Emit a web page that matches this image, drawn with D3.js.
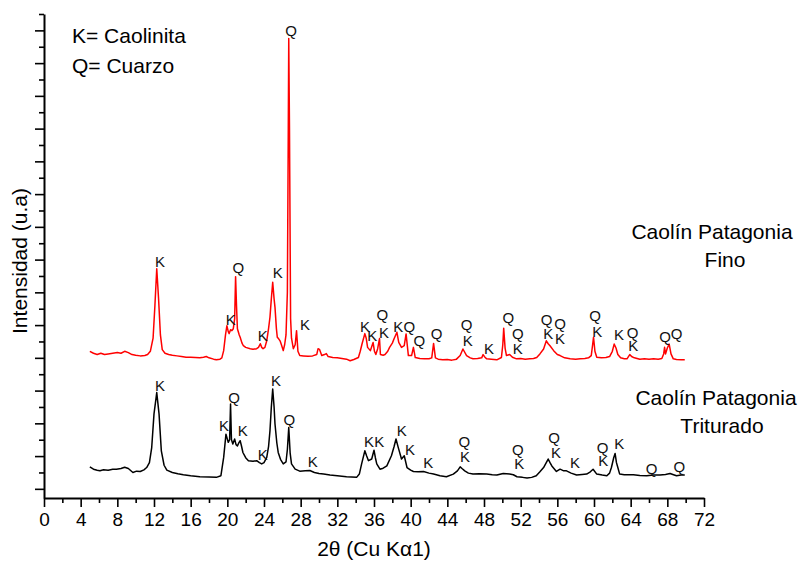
<!DOCTYPE html>
<html>
<head>
<meta charset="utf-8">
<script src="https://cdn.jsdelivr.net/npm/d3@7"></script>
<style>
  html, body { margin: 0; padding: 0; background: #fff; }
  svg { display: block; font-family: "Liberation Sans", Arial, sans-serif; }
</style>
</head>
<body>
<div id="chart"></div>
<script>
// XRD patterns, 2θ in degrees vs intensity (a.u.)

// Caolín Patagonia Fino (red, upper trace)
const finoData = [
  [5.0,420],[5.4,414],[5.8,410],[6.2,414],[6.6,410],[7.0,412],[7.5,414],[8.0,416],[8.4,414],[8.8,420],
  [9.2,416],[9.6,410],[10.0,408],[10.5,406],[11.0,407],[11.3,410],[11.6,420],[11.9,460],[12.1,560],[12.3,672],
  [12.5,580],[12.7,470],[12.9,425],[13.2,414],[13.6,410],[14.0,408],[14.5,406],[15.0,404],[15.5,402],[16.0,402],
  [16.5,401],[17.0,400],[17.4,402],[17.7,404],[18.0,400],[18.5,396],[18.8,394],[19.2,396],[19.4,400],[19.6,422],
  [19.8,470],[19.95,498],[20.1,480],[20.2,474],[20.35,486],[20.5,483],[20.65,489],[20.8,520],[20.9,648],[21.0,560],
  [21.1,489],[21.3,470],[21.4,463],[21.6,445],[21.75,437],[22.0,432],[22.5,428],[22.8,426],[23.2,428],[23.4,432],
  [23.6,443],[23.75,432],[23.9,428],[24.1,432],[24.3,452],[24.5,490],[24.65,524],[24.8,580],[24.95,631],[25.1,580],
  [25.2,554],[25.35,490],[25.45,463],[25.6,458],[25.75,452],[25.9,440],[26.1,422],[26.25,440],[26.4,470],[26.55,600],
  [26.65,1100],[26.7,1375],[26.78,1100],[26.9,520],[27.0,460],[27.2,428],[27.4,440],[27.55,483],[27.7,420],[27.9,407],
  [28.3,406],[28.8,405],[29.3,406],[29.75,410],[29.9,428],[30.05,426],[30.3,407],[30.6,410],[30.8,413],[31.0,404],
  [31.5,401],[32.0,400],[32.5,398],[33.0,396],[33.4,391],[33.8,395],[34.3,401],[34.5,420],[34.7,443],[35.0,474],
  [35.15,460],[35.3,432],[35.6,422],[35.9,447],[36.05,420],[36.2,410],[36.4,428],[36.6,459],[36.7,410],[37.0,408],
  [37.2,410],[37.5,420],[37.7,432],[38.0,445],[38.2,459],[38.5,478],[38.7,447],[39.0,432],[39.3,437],[39.5,473],
  [39.75,407],[40.1,407],[40.3,432],[40.5,401],[41.0,398],[41.5,397],[42.0,397],[42.3,400],[42.5,444],[42.7,400],
  [43.0,396],[43.5,394],[44.0,395],[44.5,393],[45.0,396],[45.4,407],[45.7,427],[46.1,407],[46.5,400],[46.8,397],
  [47.3,398],[47.75,400],[47.9,410],[48.1,402],[48.3,397],[48.8,396],[49.4,394],[49.9,401],[50.05,440],[50.15,490],
  [50.3,430],[50.45,407],[50.8,410],[51.1,402],[51.55,397],[52.0,398],[52.5,396],[53.0,397],[53.4,398],[53.75,401],
  [54.1,412],[54.5,427],[54.8,452],[55.0,443],[55.2,437],[55.6,422],[56.0,410],[56.3,407],[56.8,400],[57.4,397],
  [58.0,396],[58.5,397],[59.0,398],[59.4,400],[59.7,407],[59.85,440],[59.95,463],[60.1,420],[60.3,402],[60.8,400],
  [61.3,401],[61.7,404],[62.0,420],[62.2,442],[62.4,430],[62.6,410],[62.9,400],[63.3,397],[63.6,397],[63.9,410],
  [64.1,404],[64.4,400],[65.0,396],[65.5,397],[66.0,396],[66.5,397],[67.0,396],[67.4,398],[67.6,412],[67.7,432],
  [67.8,412],[68.0,430],[68.2,442],[68.4,412],[68.65,397],[69.0,395],[69.5,394],[69.9,394]
];

// Caolín Patagonia Triturado (black, lower trace)
const trituradoData = [
  [5.0,67],[5.4,60],[5.8,57],[6.1,55],[6.5,58],[7.0,57],[7.5,60],[7.9,60],[8.4,62],[8.8,66],
  [9.2,62],[9.7,50],[10.1,54],[10.5,53],[10.9,58],[11.2,65],[11.5,80],[11.75,126],[12.0,229],[12.3,294],
  [12.55,229],[12.8,116],[13.1,72],[13.4,57],[14.0,50],[14.6,46],[15.2,43],[16.0,40],[17.0,37],[18.0,36],
  [18.8,35],[19.3,40],[19.6,96],[19.85,167],[20.1,142],[20.25,150],[20.35,259],[20.45,150],[20.6,137],[20.8,152],
  [20.95,135],[21.1,131],[21.25,140],[21.4,147],[21.55,130],[21.7,111],[22.0,95],[22.3,86],[22.8,84],[23.2,86],
  [23.5,80],[23.75,76],[24.0,80],[24.3,96],[24.5,130],[24.65,177],[24.8,250],[24.95,305],[25.1,250],[25.2,198],
  [25.4,140],[25.55,111],[25.8,90],[26.1,76],[26.4,82],[26.55,120],[26.7,187],[26.85,110],[27.0,76],[27.4,60],
  [27.9,54],[28.5,55],[29.0,56],[29.5,50],[30.0,47],[30.5,45],[31.2,42],[32.0,40],[33.0,37],[34.1,35],
  [34.4,45],[34.65,76],[35.0,116],[35.2,100],[35.4,86],[35.75,91],[36.0,118],[36.15,95],[36.3,76],[36.65,60],
  [37.0,63],[37.4,70],[37.9,101],[38.2,130],[38.4,152],[38.65,126],[39.0,91],[39.3,101],[39.6,65],[40.0,57],
  [40.3,53],[40.8,52],[41.4,53],[42.0,48],[42.5,45],[43.2,40],[43.9,37],[44.65,45],[45.1,55],[45.4,67],
  [45.6,62],[45.9,55],[46.3,48],[46.8,45],[47.5,46],[48.3,45],[48.9,43],[49.4,42],[50.1,47],[50.8,45],
  [51.2,43],[51.6,37],[52.2,35],[52.7,33],[53.2,35],[53.7,40],[54.1,52],[54.5,65],[55.0,91],[55.2,80],
  [55.4,70],[55.9,53],[56.3,60],[56.7,55],[57.0,55],[57.5,48],[58.1,42],[58.7,44],[59.2,45],[59.6,52],
  [59.9,60],[60.3,45],[60.9,42],[61.4,40],[61.7,48],[61.9,65],[62.15,95],[62.3,108],[62.45,80],[62.6,65],
  [62.8,45],[63.3,43],[64.3,43],[65.0,41],[65.75,40],[66.5,42],[67.2,42],[67.8,44],[68.3,47],[68.6,44],
  [69.0,40],[69.5,42],[69.9,42]
];

// peak labels: [2θ, intensity at label centre, phase]
const finoLabels = [
  [12.65,694,'K'],[21.2,677,'Q'],[20.37,516,'K'],[23.86,468,'K'],[25.49,659,'K'],[26.95,1400,'Q'],
  [28.47,503,'K'],[35.02,496,'K'],[35.81,468,'K'],[36.9,531,'Q'],[37.09,476,'K'],[38.65,495,'K'],
  [39.85,496,'Q'],[40.94,452,'Q'],[42.84,475,'Q'],[46.11,503,'Q'],[46.22,452,'K'],[48.55,429,'K'],
  [50.65,524,'Q'],[51.68,473,'Q'],[51.68,427,'K'],[54.84,516,'Q'],[55.02,473,'K'],[56.29,505,'Q'],
  [56.29,458,'K'],[60.11,529,'Q'],[60.36,481,'K'],[62.73,471,'K'],[64.22,478,'Q'],[64.29,437,'K'],
  [67.75,465,'Q'],[69.02,473,'Q']
];
const trituradoLabels = [
  [12.65,315,'K'],[20.73,279,'Q'],[19.64,193,'K'],[21.68,177,'K'],[23.86,106,'K'],[25.31,330,'K'],
  [26.76,210,'Q'],[29.31,83,'K'],[35.45,144,'K'],[36.58,144,'K'],[39.02,179,'K'],[39.93,121,'K'],
  [41.92,80,'K'],[45.85,144,'Q'],[45.93,98,'K'],[51.68,121,'Q'],[51.85,76,'K'],[55.64,157,'Q'],
  [55.85,111,'K'],[57.93,80,'K'],[60.95,126,'Q'],[61.01,86,'K'],[62.76,137,'K'],[66.29,63,'Q'],
  [69.31,67,'Q']
];

const xMajorTicks = d3.range(0, 73, 4);
const xMinorTicks = d3.range(2, 72, 4);
const yMajorTicks = d3.range(0, 1401, 100);
const yMinorTicks = d3.range(50, 1451, 100);

const legendLines = ['K= Caolinita', 'Q= Cuarzo'];
const finoName = ['Caolín Patagonia', 'Fino'];
const trituradoName = ['Caolín Patagonia', 'Triturado'];

const width = 805, height = 563;
const margin = { top: 14, right: 101, bottom: 65, left: 44 };
const innerW = width - margin.left - margin.right;
const innerH = height - margin.top - margin.bottom;

const svg = d3.select('#chart').append('svg')
  .attr('width', width)
  .attr('height', height);

const g = svg.append('g').attr('transform', `translate(${margin.left},${margin.top})`);

const x = d3.scaleLinear().domain([0, 72]).range([0, innerW]);
const y = d3.scaleLinear().domain([-28, 1450]).range([innerH, 0]);

// traces
const line = d3.line().x(d => x(d[0])).y(d => y(d[1]));
g.append('path')
  .datum(finoData)
  .attr('fill', 'none')
  .attr('stroke', '#ff0000')
  .attr('stroke-width', 1.5)
  .attr('stroke-linejoin', 'round')
  .attr('d', line);
g.append('path')
  .datum(trituradoData)
  .attr('fill', 'none')
  .attr('stroke', '#000')
  .attr('stroke-width', 1.5)
  .attr('stroke-linejoin', 'round')
  .attr('d', line);

// peak labels
function drawLabels(labels) {
  g.append('g').selectAll('text')
    .data(labels)
    .join('text')
    .attr('x', d => x(d[0]))
    .attr('y', d => y(d[1]))
    .attr('dy', '0.36em')
    .attr('text-anchor', 'middle')
    .attr('font-size', 15)
    .attr('fill', '#111')
    .text(d => d[2]);
}
drawLabels(finoLabels);
drawLabels(trituradoLabels);

// axes
function styleAxis(sel) {
  sel.select('.domain').attr('stroke', '#000').attr('stroke-width', 2);
  sel.selectAll('.tick line').attr('stroke', '#000').attr('stroke-width', 1.6);
}

const xAxisG = g.append('g')
  .attr('transform', `translate(0,${innerH})`)
  .call(d3.axisBottom(x).tickValues(xMajorTicks).tickSize(9).tickSizeOuter(0).tickPadding(6));
xAxisG.selectAll('text').attr('font-size', 19).attr('fill', '#000').attr('font-family', '"Liberation Sans", Arial, sans-serif');
styleAxis(xAxisG);
const xMinorG = g.append('g')
  .attr('transform', `translate(0,${innerH})`)
  .call(d3.axisBottom(x).tickValues(xMinorTicks).tickSize(5).tickFormat(''));
xMinorG.select('.domain').remove();
styleAxis(xMinorG);

const yAxisG = g.append('g')
  .call(d3.axisLeft(y).tickValues(yMajorTicks).tickSize(9).tickSizeOuter(0).tickFormat(''));
styleAxis(yAxisG);
const yMinorG = g.append('g')
  .call(d3.axisLeft(y).tickValues(yMinorTicks).tickSize(5).tickFormat(''));
yMinorG.select('.domain').remove();
styleAxis(yMinorG);

// axis titles
svg.append('text')
  .attr('x', margin.left + innerW / 2)
  .attr('y', 556)
  .attr('text-anchor', 'middle')
  .attr('font-size', 21)
  .text('2θ (Cu Kα1)');

svg.append('text')
  .attr('transform', `translate(27,${margin.top + innerH / 2 + 5}) rotate(-90)`)
  .attr('text-anchor', 'middle')
  .attr('font-size', 21)
  .text('Intensidad (u.a)');

// legend
svg.append('g').selectAll('text')
  .data(legendLines)
  .join('text')
  .attr('x', 72)
  .attr('y', (d, i) => 43 + i * 30)
  .attr('font-size', 21)
  .text(d => d);

// series names
svg.append('text').attr('x', 712).attr('y', 239).attr('text-anchor', 'middle').attr('font-size', 21).text(finoName[0]);
svg.append('text').attr('x', 725).attr('y', 267).attr('text-anchor', 'middle').attr('font-size', 21).text(finoName[1]);
svg.append('text').attr('x', 716).attr('y', 405).attr('text-anchor', 'middle').attr('font-size', 21).text(trituradoName[0]);
svg.append('text').attr('x', 722).attr('y', 433).attr('text-anchor', 'middle').attr('font-size', 21).text(trituradoName[1]);
</script>
</body>
</html>
